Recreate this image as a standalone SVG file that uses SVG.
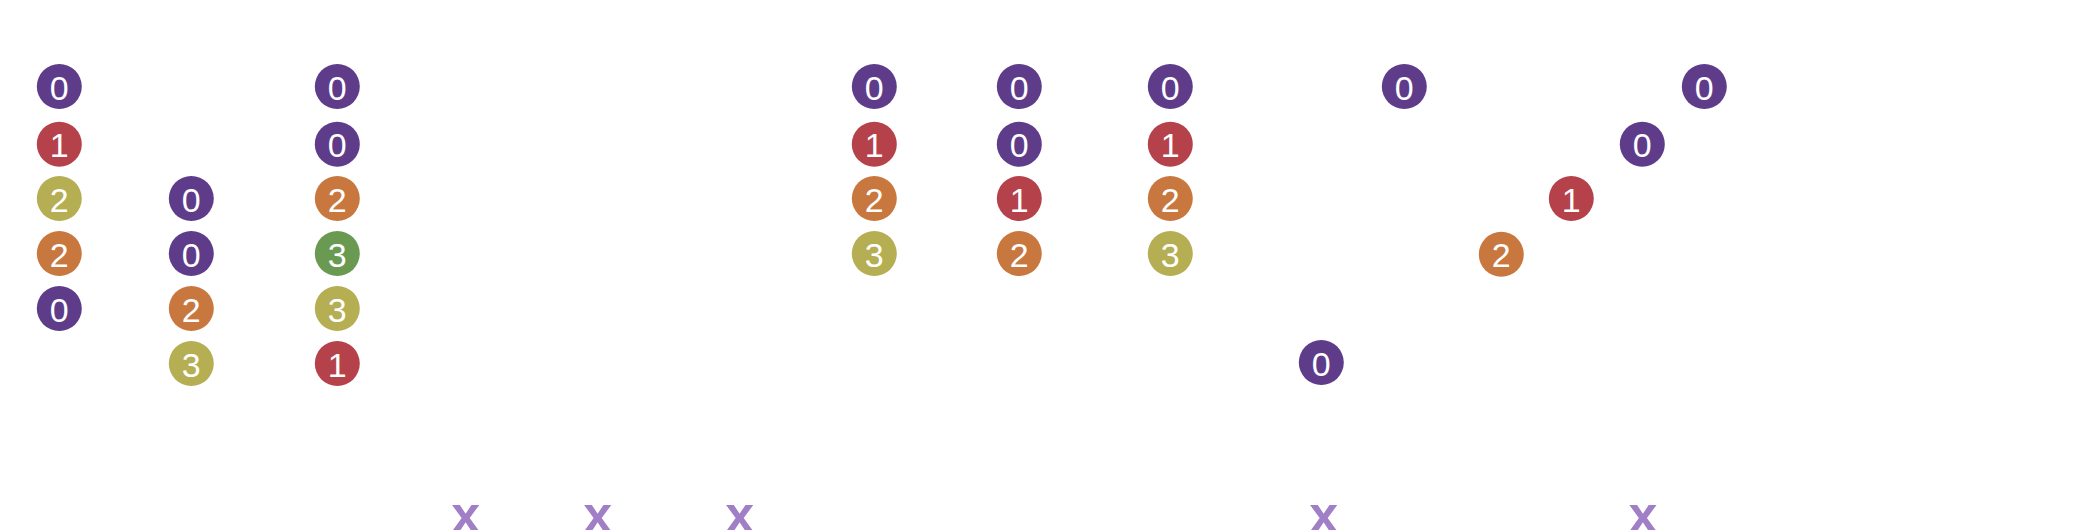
<svg xmlns="http://www.w3.org/2000/svg" width="2093" height="530" viewBox="0 0 2093 530">
<style>
.n circle{stroke:none}
.n text{font-family:"Liberation Sans","Open Sans",sans-serif;font-size:34px;fill:#fff;text-anchor:middle}
.p{fill:#5E3C8A}.r{fill:#B5424A}.o{fill:#B5AE52}.a{fill:#C8783F}.g{fill:#6A9A52}
.x{font-family:"Liberation Sans",sans-serif;font-weight:bold;font-size:52px;fill:#A07FC6;text-anchor:middle}
</style>
<rect width="2093" height="530" fill="#fff"/>
<defs>
<g id="c"/>
</defs>
<g id="col1" class="n">
<g id="n1a"><circle class="p" cx="59.3" cy="86.5" r="22.5"/><text x="59.3" y="99.5">0</text></g>
<g id="n1b"><circle class="r" cx="59.3" cy="144.2" r="22.5"/><text x="59.3" y="157.2">1</text></g>
<g id="n1c"><circle class="o" cx="59.3" cy="198.5" r="22.5"/><text x="59.3" y="211.5">2</text></g>
<g id="n1d"><circle class="a" cx="59.3" cy="253.5" r="22.5"/><text x="59.3" y="266.5">2</text></g>
<g id="n1e"><circle class="p" cx="59.3" cy="308.5" r="22.5"/><text x="59.3" y="321.5">0</text></g>
</g>
<g id="col2" class="n">
<g id="n2a"><circle class="p" cx="191.3" cy="198.5" r="22.5"/><text x="191.3" y="211.5">0</text></g>
<g id="n2b"><circle class="p" cx="191.3" cy="253.5" r="22.5"/><text x="191.3" y="266.5">0</text></g>
<g id="n2c"><circle class="a" cx="191.3" cy="308.5" r="22.5"/><text x="191.3" y="321.5">2</text></g>
<g id="n2d"><circle class="o" cx="191.3" cy="363.5" r="22.5"/><text x="191.3" y="376.5">3</text></g>
</g>
<g id="col3" class="n">
<g id="n3a"><circle class="p" cx="337.3" cy="86.5" r="22.5"/><text x="337.3" y="99.5">0</text></g>
<g id="n3b"><circle class="p" cx="337.3" cy="144.2" r="22.5"/><text x="337.3" y="157.2">0</text></g>
<g id="n3c"><circle class="a" cx="337.3" cy="198.5" r="22.5"/><text x="337.3" y="211.5">2</text></g>
<g id="n3d"><circle class="g" cx="337.3" cy="253.5" r="22.5"/><text x="337.3" y="266.5">3</text></g>
<g id="n3e"><circle class="o" cx="337.3" cy="308.5" r="22.5"/><text x="337.3" y="321.5">3</text></g>
<g id="n3f"><circle class="r" cx="337.3" cy="363.5" r="22.5"/><text x="337.3" y="376.5">1</text></g>
</g>
<g id="col4" class="n">
<g id="n4a"><circle class="p" cx="874.3" cy="86.5" r="22.5"/><text x="874.3" y="99.5">0</text></g>
<g id="n4b"><circle class="r" cx="874.3" cy="144.2" r="22.5"/><text x="874.3" y="157.2">1</text></g>
<g id="n4c"><circle class="a" cx="874.3" cy="198.5" r="22.5"/><text x="874.3" y="211.5">2</text></g>
<g id="n4d"><circle class="o" cx="874.3" cy="253.5" r="22.5"/><text x="874.3" y="266.5">3</text></g>
</g>
<g id="col5" class="n">
<g id="n5a"><circle class="p" cx="1019.3" cy="86.5" r="22.5"/><text x="1019.3" y="99.5">0</text></g>
<g id="n5b"><circle class="p" cx="1019.3" cy="144.2" r="22.5"/><text x="1019.3" y="157.2">0</text></g>
<g id="n5c"><circle class="r" cx="1019.3" cy="198.5" r="22.5"/><text x="1019.3" y="211.5">1</text></g>
<g id="n5d"><circle class="a" cx="1019.3" cy="253.5" r="22.5"/><text x="1019.3" y="266.5">2</text></g>
</g>
<g id="col6" class="n">
<g id="n6a"><circle class="p" cx="1170.3" cy="86.5" r="22.5"/><text x="1170.3" y="99.5">0</text></g>
<g id="n6b"><circle class="r" cx="1170.3" cy="144.2" r="22.5"/><text x="1170.3" y="157.2">1</text></g>
<g id="n6c"><circle class="a" cx="1170.3" cy="198.5" r="22.5"/><text x="1170.3" y="211.5">2</text></g>
<g id="n6d"><circle class="o" cx="1170.3" cy="253.5" r="22.5"/><text x="1170.3" y="266.5">3</text></g>
</g>
<g id="scatter" class="n">
<g id="n7a"><circle class="p" cx="1404.3" cy="86.5" r="22.5"/><text x="1404.3" y="99.5">0</text></g>
<g id="n7b"><circle class="p" cx="1321.3" cy="362.5" r="22.5"/><text x="1321.3" y="375.5">0</text></g>
<g id="n7c"><circle class="a" cx="1501.3" cy="254.3" r="22.5"/><text x="1501.3" y="267.3">2</text></g>
<g id="n7d"><circle class="r" cx="1571.3" cy="198.5" r="22.5"/><text x="1571.3" y="211.5">1</text></g>
<g id="n7e"><circle class="p" cx="1642.3" cy="144.2" r="22.5"/><text x="1642.3" y="157.2">0</text></g>
<g id="n7f"><circle class="p" cx="1704.3" cy="86.5" r="22.5"/><text x="1704.3" y="99.5">0</text></g>
</g>
<g id="connectors"/>
<g id="marks">
<text class="x" x="465.7" y="532">x</text>
<text class="x" x="597.7" y="532">x</text>
<text class="x" x="739.7" y="532">x</text>
<text class="x" x="1323.7" y="532">x</text>
<text class="x" x="1643" y="532">x</text>
</g>
</svg>
